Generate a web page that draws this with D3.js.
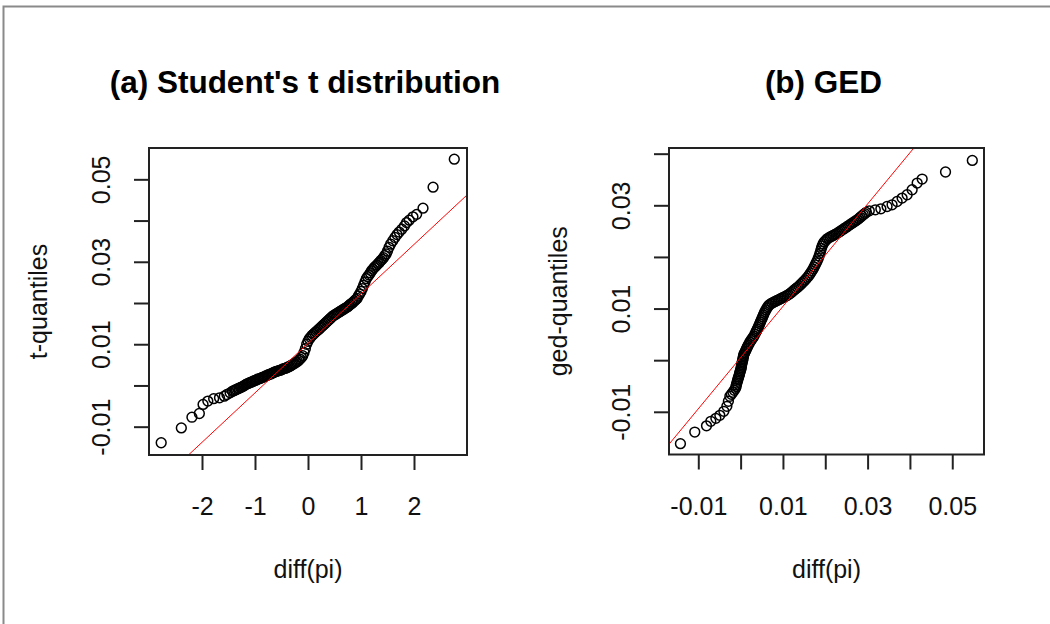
<!DOCTYPE html>
<html>
<head>
<meta charset="utf-8">
<script src="https://cdn.jsdelivr.net/npm/d3@7"></script>
<style>
body { margin: 0; background: #fff; }
svg text { font-family: "Liberation Sans", Arial, sans-serif; fill: #111; }
</style>
</head>
<body>
<div id="chart"></div>
<script>
// (a) normal scores on x, sorted diff(pi) on y
var tTheo = [-2.77, -2.39, -2.19, -2.05, -1.98, -1.89, -1.78, -1.67, -1.58, -1.53, -1.47,
    -1.425, -1.400, -1.375, -1.350, -1.325, -1.300, -1.275, -1.250, -1.225, -1.200,
    -1.175, -1.150, -1.125, -1.100, -1.075, -1.050, -1.025, -1.000, -0.975, -0.950,
    -0.925, -0.900, -0.875, -0.850, -0.825, -0.800, -0.775, -0.750, -0.725, -0.700,
    -0.675, -0.650, -0.625, -0.600, -0.575, -0.550, -0.525, -0.500, -0.475, -0.450,
    -0.425, -0.400, -0.375, -0.350, -0.325, -0.300, -0.275, -0.250, -0.225, -0.200,
    -0.175, -0.150, -0.125, -0.100, -0.075, -0.050, -0.025, 0.000, 0.025, 0.050,
    0.075, 0.100, 0.125, 0.150, 0.175, 0.200, 0.225, 0.250, 0.275, 0.300,
    0.325, 0.350, 0.375, 0.400, 0.425, 0.450, 0.475, 0.500, 0.525, 0.550,
    0.575, 0.600, 0.625, 0.650, 0.675, 0.700, 0.725, 0.750, 0.775, 0.800,
    0.825, 0.850, 0.875, 0.900, 0.925, 0.950, 0.975, 1.000, 1.025, 1.050,
    1.075, 1.100, 1.125, 1.150, 1.175, 1.200, 1.225, 1.250, 1.275, 1.300,
    1.325, 1.350, 1.375, 1.400, 1.425, 1.450, 1.475, 1.500,
    1.53, 1.56, 1.60, 1.64, 1.68, 1.72, 1.77, 1.82, 1.86, 1.91, 1.98, 2.05, 2.17, 2.36, 2.76];
var tSample = [-0.0139, -0.0103, -0.0077, -0.0068, -0.0046, -0.0038, -0.0032, -0.0030, -0.0026, -0.0022, -0.0018,
    -0.0014, -0.0013, -0.0011, -0.0010, -0.0008, -0.0007, -0.0005, -0.0004, -0.0002, 0.0000,
    0.0002, 0.0004, 0.0005, 0.0007, 0.0008, 0.0009, 0.0011, 0.0012, 0.0013, 0.0015,
    0.0016, 0.0017, 0.0019, 0.0020, 0.0021, 0.0023, 0.0024, 0.0026, 0.0027, 0.0028,
    0.0030, 0.0031, 0.0033, 0.0034, 0.0035, 0.0036, 0.0037, 0.0038, 0.0040, 0.0041,
    0.0042, 0.0043, 0.0045, 0.0046, 0.0048, 0.0050, 0.0052, 0.0054, 0.0056, 0.0058,
    0.0061, 0.0064, 0.0068, 0.0072, 0.0080, 0.0089, 0.0100, 0.0107, 0.0113, 0.0117,
    0.0121, 0.0124, 0.0127, 0.0130, 0.0133, 0.0136, 0.0139, 0.0142, 0.0145, 0.0148,
    0.0151, 0.0154, 0.0157, 0.0160, 0.0163, 0.0166, 0.0169, 0.0171, 0.0173, 0.0175,
    0.0177, 0.0179, 0.0181, 0.0183, 0.0185, 0.0187, 0.0189, 0.0191, 0.0194, 0.0197,
    0.0199, 0.0202, 0.0205, 0.0208, 0.0211, 0.0217, 0.0222, 0.0228, 0.0235, 0.0243,
    0.0251, 0.0259, 0.0264, 0.0268, 0.0273, 0.0278, 0.0282, 0.0286, 0.0289, 0.0292,
    0.0296, 0.0299, 0.0303, 0.0306, 0.0310, 0.0315, 0.0319, 0.0326,
    0.0335, 0.0343, 0.0351, 0.0359, 0.0366, 0.0372, 0.0379, 0.0387, 0.0395, 0.0401, 0.0409, 0.0415, 0.0430, 0.0481, 0.0549];

// (b) sorted diff(pi) on x, GED quantiles on y
var gedSample = [-0.01422, -0.01083, -0.00806, -0.00704, -0.00585, -0.00491, -0.00396, -0.00325, -0.00289, -0.00254,
    -0.00218, -0.00182, -0.00150, -0.00118, -0.00109, -0.00100, -0.00088, -0.00076, -0.00066, -0.00057,
    -0.00045, -0.00033, -0.00025, -0.00017, -0.00005, 0.00007, 0.00013, 0.00019, 0.00025, 0.00031,
    0.00040, 0.00050, 0.00056, 0.00062, 0.00070, 0.00078, 0.00096, 0.00114, 0.00130, 0.00145,
    0.00162, 0.00180, 0.00200, 0.00220, 0.00244, 0.00268, 0.00292, 0.00315, 0.00339, 0.00363,
    0.00380, 0.00398, 0.00416, 0.00434, 0.00452, 0.00469, 0.00487, 0.00505, 0.00522, 0.00540,
    0.00558, 0.00576, 0.00600, 0.00623, 0.00647, 0.00671, 0.00706, 0.00742, 0.00777, 0.00813,
    0.00848, 0.00884, 0.00920, 0.00955, 0.00990, 0.01026, 0.01062, 0.01097, 0.01132, 0.01168,
    0.01204, 0.01239, 0.01274, 0.01310, 0.01346, 0.01382, 0.01418, 0.01453, 0.01488, 0.01524,
    0.01560, 0.01595, 0.01624, 0.01654, 0.01684, 0.01713, 0.01737, 0.01761, 0.01784, 0.01808,
    0.01832, 0.01855, 0.01873, 0.01891, 0.01909, 0.01927, 0.01950, 0.01974, 0.02010, 0.02045,
    0.02080, 0.02116, 0.02152, 0.02187, 0.02222, 0.02258, 0.02294, 0.02329, 0.02364, 0.02400,
    0.02436, 0.02472, 0.02508, 0.02543, 0.02578, 0.02614, 0.02650, 0.02685, 0.02720, 0.02756,
    0.02792, 0.02827, 0.02862, 0.02898, 0.02934, 0.02969, 0.03040,
    0.03182, 0.03313, 0.03460, 0.03578, 0.03697, 0.03815, 0.03934, 0.04052, 0.04171, 0.04289, 0.04841, 0.05474];
var gedTheo = [-0.01617, -0.01392, -0.01272, -0.01184, -0.01126, -0.01068, -0.00990, -0.00893, -0.00796, -0.00699,
    -0.00660, -0.00621, -0.00582, -0.00544, -0.00510, -0.00476, -0.00442, -0.00408, -0.00379, -0.00350,
    -0.00320, -0.00291, -0.00262, -0.00233, -0.00204, -0.00175, -0.00146, -0.00117, -0.00088, -0.00058,
    -0.00029, 0.00000, 0.00029, 0.00058, 0.00088, 0.00117, 0.00146, 0.00175, 0.00204, 0.00233,
    0.00262, 0.00291, 0.00320, 0.00350, 0.00379, 0.00408, 0.00437, 0.00466, 0.00505, 0.00544,
    0.00573, 0.00602, 0.00636, 0.00670, 0.00704, 0.00738, 0.00772, 0.00806, 0.00840, 0.00874,
    0.00908, 0.00942, 0.00976, 0.01010, 0.01039, 0.01068, 0.01088, 0.01107, 0.01122, 0.01136,
    0.01151, 0.01165, 0.01180, 0.01194, 0.01209, 0.01223, 0.01238, 0.01252, 0.01271, 0.01291,
    0.01315, 0.01340, 0.01364, 0.01388, 0.01412, 0.01437, 0.01466, 0.01495, 0.01524, 0.01553,
    0.01587, 0.01621, 0.01655, 0.01689, 0.01728, 0.01767, 0.01806, 0.01845, 0.01884, 0.01922,
    0.01970, 0.02019, 0.02068, 0.02117, 0.02166, 0.02214, 0.02253, 0.02291, 0.02320, 0.02350,
    0.02369, 0.02388, 0.02402, 0.02417, 0.02432, 0.02447, 0.02466, 0.02485, 0.02504, 0.02524,
    0.02543, 0.02563, 0.02582, 0.02602, 0.02621, 0.02641, 0.02660, 0.02680, 0.02699, 0.02718,
    0.02742, 0.02767, 0.02791, 0.02816, 0.02840, 0.02864, 0.02893,
    0.02913, 0.02932, 0.02977, 0.03010, 0.03074, 0.03140, 0.03204, 0.03301, 0.03431, 0.03509, 0.03645, 0.03870];

// qqline: [intercept, slope]
var tLine = [0.0102, 0.0120];
var gedLine = [0.0005, 0.992];

var tXTicks = [-2, -1, 0, 1, 2];
var tXLabels = [-2, -1, 0, 1, 2];
var tYTicks = [-0.01, 0, 0.01, 0.02, 0.03, 0.04, 0.05];
var tYLabels = [-0.01, 0.01, 0.03, 0.05];
var gedXTicks = [-0.01, 0, 0.01, 0.02, 0.03, 0.04, 0.05];
var gedXLabels = [-0.01, 0.01, 0.03, 0.05];
var gedYTicks = [-0.01, 0, 0.01, 0.02, 0.03, 0.04];
var gedYLabels = [-0.01, 0.01, 0.03];

var width = 1050, height = 624;
var svg = d3.select('#chart').append('svg')
    .attr('width', width)
    .attr('height', height);

svg.append('rect').attr('width', width).attr('height', height).attr('fill', '#fff');
// window frame (top and left edges only)
svg.append('path')
    .attr('d', 'M3.5,' + height + 'V6.5H' + width)
    .attr('fill', 'none')
    .attr('stroke', '#8a8a8a')
    .attr('stroke-width', 2);

function fmt(d) {
    if (d === 0) return '0';
    return Math.abs(d) >= 1 ? String(d) : d.toFixed(2);
}

function qqPanel(opt) {
    var x = d3.scaleLinear().domain(opt.xDomain).range([opt.left, opt.right]);
    var y = d3.scaleLinear().domain(opt.yDomain).range([opt.bottom, opt.top]);
    var g = svg.append('g');

    g.append('clipPath').attr('id', opt.id + '_clip')
        .append('rect')
        .attr('x', opt.left).attr('y', opt.top)
        .attr('width', opt.right - opt.left)
        .attr('height', opt.bottom - opt.top);

    // points
    g.append('g').selectAll('circle')
        .data(opt.xs.map(function (d, i) { return [d, opt.ys[i]]; }))
        .enter().append('circle')
        .attr('cx', function (d) { return x(d[0]); })
        .attr('cy', function (d) { return y(d[1]); })
        .attr('r', 4.9)
        .attr('fill', 'none')
        .attr('stroke', '#000')
        .attr('stroke-width', 1.5);

    // reference line
    var x0 = opt.xDomain[0], x1 = opt.xDomain[1];
    g.append('line')
        .attr('clip-path', 'url(#' + opt.id + '_clip)')
        .attr('x1', x(x0)).attr('y1', y(opt.line[0] + opt.line[1] * x0))
        .attr('x2', x(x1)).attr('y2', y(opt.line[0] + opt.line[1] * x1))
        .attr('stroke', '#ff0000')
        .attr('stroke-width', 1);

    // box
    g.append('rect')
        .attr('x', opt.left).attr('y', opt.top)
        .attr('width', opt.right - opt.left)
        .attr('height', opt.bottom - opt.top)
        .attr('fill', 'none')
        .attr('stroke', '#222')
        .attr('stroke-width', 2);

    // axes
    var xAxis = g.append('g')
        .attr('transform', 'translate(0,' + opt.bottom + ')')
        .call(d3.axisBottom(x).tickValues(opt.xTicks).tickSize(15).tickSizeOuter(0)
            .tickFormat(function (d) { return opt.xLabels.indexOf(d) >= 0 ? fmt(d) : ''; }));
    xAxis.select('.domain').remove();
    xAxis.selectAll('.tick line').attr('stroke', '#222').attr('stroke-width', 2);
    xAxis.selectAll('.tick text')
        .attr('y', 60).attr('dy', 0)
        .style('font-size', '25px').style('fill', '#111');

    var yAxis = g.append('g')
        .attr('transform', 'translate(' + opt.left + ',0)')
        .call(d3.axisLeft(y).tickValues(opt.yTicks).tickSize(15).tickSizeOuter(0)
            .tickFormat(function (d) { return opt.yLabels.indexOf(d) >= 0 ? fmt(d) : ''; }));
    yAxis.select('.domain').remove();
    yAxis.selectAll('.tick line').attr('stroke', '#222').attr('stroke-width', 2);
    yAxis.selectAll('.tick text')
        .attr('transform', 'rotate(-90)')
        .attr('x', 0).attr('y', -39).attr('dy', 0)
        .style('text-anchor', 'middle')
        .style('font-size', '25px').style('fill', '#111');

    var cx = (opt.left + opt.right) / 2, cy = (opt.top + opt.bottom) / 2;
    g.append('text')
        .attr('x', cx - 3).attr('y', 93)
        .attr('text-anchor', 'middle')
        .style('font-size', '31.5px').style('font-weight', 'bold')
        .style('fill', '#000')
        .text(opt.title);
    g.append('text')
        .attr('x', cx).attr('y', 577.5)
        .attr('text-anchor', 'middle')
        .style('font-size', '25px')
        .text(opt.xLab);
    g.append('text')
        .attr('transform', 'translate(' + (opt.left - 102.5) + ',' + cy + ') rotate(-90)')
        .attr('text-anchor', 'middle')
        .style('font-size', '25px')
        .text(opt.yLab);
}

qqPanel({
    id: 'tq', left: 149, right: 467, top: 148, bottom: 455,
    xDomain: [-3.0, 3.0], yDomain: [-0.01687, 0.0576],
    xs: tTheo, ys: tSample, line: tLine,
    xTicks: tXTicks, xLabels: tXLabels, yTicks: tYTicks, yLabels: tYLabels,
    title: '(a) Student\'s t distribution', xLab: 'diff(pi)', yLab: 't-quantiles'
});

qqPanel({
    id: 'ged', left: 669, right: 984, top: 148, bottom: 454.5,
    xDomain: [-0.01692, 0.0575], yDomain: [-0.01827, 0.0411],
    xs: gedSample, ys: gedTheo, line: gedLine,
    xTicks: gedXTicks, xLabels: gedXLabels, yTicks: gedYTicks, yLabels: gedYLabels,
    title: '(b) GED', xLab: 'diff(pi)', yLab: 'ged-quantiles'
});
</script>
</body>
</html>
